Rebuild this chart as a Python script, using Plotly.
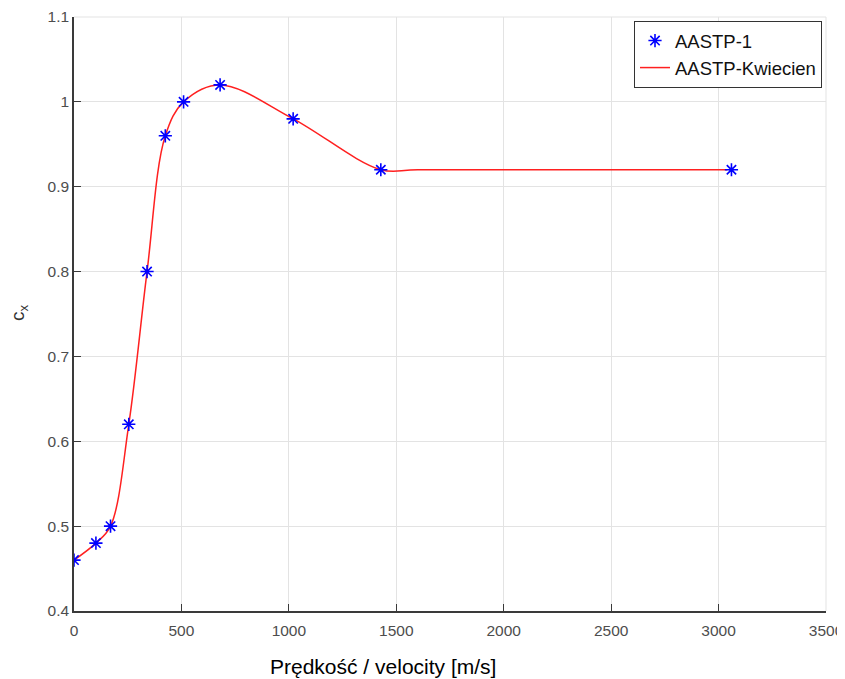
import plotly.graph_objects as go

# AASTP-1 data points
velocity = [0, 102, 170, 255, 340, 425, 510, 680, 1020, 1428, 3060]
cx = [0.46, 0.48, 0.50, 0.62, 0.80, 0.96, 1.00, 1.02, 0.98, 0.92, 0.92]

# AASTP-Kwiecien curve nodes (flat at 0.92 beyond 1428)
line_v = [0, 102, 170, 255, 340, 425, 510, 680, 1020, 1428, 1600, 3040]
line_cx = [0.46, 0.48, 0.50, 0.62, 0.80, 0.96, 1.00, 1.02, 0.98, 0.92, 0.92, 0.92]

x_ticks = [0, 500, 1000, 1500, 2000, 2500, 3000, 3500]
y_ticks = [0.4, 0.5, 0.6, 0.7, 0.8, 0.9, 1.0, 1.1]
y_labels = ["0.4", "0.5", "0.6", "0.7", "0.8", "0.9", "1", "1.1"]

FONT = "Liberation Sans, Arial, sans-serif"

fig = go.Figure()
fig.add_trace(go.Scatter(
    x=line_v, y=line_cx, mode="lines", name="AASTP-Kwiecien",
    line=dict(color="#ff2020", width=1.5, shape="spline", smoothing=1.0),
    legendrank=2,
))
fig.add_trace(go.Scatter(
    x=velocity, y=cx, mode="markers", name="AASTP-1",
    marker=dict(symbol="asterisk-open", size=11, color="#0000ff",
                line=dict(color="#0000ff", width=1.6)),
    legendrank=1,
))

tick_font = dict(family=FONT, size=15.5, color="#4d4d4d")
axis_common = dict(ticks="inside", ticklen=7, tickcolor="#3a3a3a", tickwidth=1.2,
                   showline=True, linecolor="#3a3a3a", linewidth=1.5,
                   showgrid=True, gridcolor="#e3e3e3", gridwidth=1, zeroline=False,
                   tickfont=tick_font, automargin=False, mirror=False)

# page body adds an 8px offset; margins compensate so the plot area lands at 74..826 x 17..611
fig.update_layout(
    width=845, height=679,
    margin=dict(l=66, r=27, t=9, b=76),
    paper_bgcolor="white", plot_bgcolor="white",
    showlegend=True,
    legend=dict(x=(822 - 74) / 752, y=(611 - 21) / 594, xanchor="right", yanchor="top",
                bgcolor="white", bordercolor="#333333", borderwidth=1,
                font=dict(family=FONT, size=18.5, color="#111111"),
                tracegroupgap=0, itemwidth=30),
    xaxis=dict(range=[0, 3500], tickvals=x_ticks, ticklabelstandoff=5, **axis_common),
    yaxis=dict(range=[0.4, 1.1], tickvals=y_ticks, ticktext=y_labels, **axis_common),
    shapes=[
        dict(type="line", xref="paper", yref="paper", x0=0, x1=1, y0=1, y1=1,
             line=dict(color="#e3e3e3", width=1)),
        dict(type="line", xref="paper", yref="paper", x0=1, x1=1, y0=0, y1=1,
             line=dict(color="#e3e3e3", width=1)),
    ],
    annotations=[
        dict(text="Prędkość / velocity [m/s]", xref="paper", yref="paper",
             x=(383 - 74) / 752, y=0, yshift=-55, xanchor="center", yanchor="middle",
             showarrow=False,
             font=dict(family=FONT, size=21, color="#000000")),
        dict(text="c<sub>x</sub>", xref="paper", yref="paper",
             x=(19 - 74) / 752, y=(611 - 313) / 594, xanchor="center", yanchor="middle",
             textangle=-90, showarrow=False,
             font=dict(family=FONT, size=19, color="#333333")),
    ],
)

fig.write_html("out.html")
